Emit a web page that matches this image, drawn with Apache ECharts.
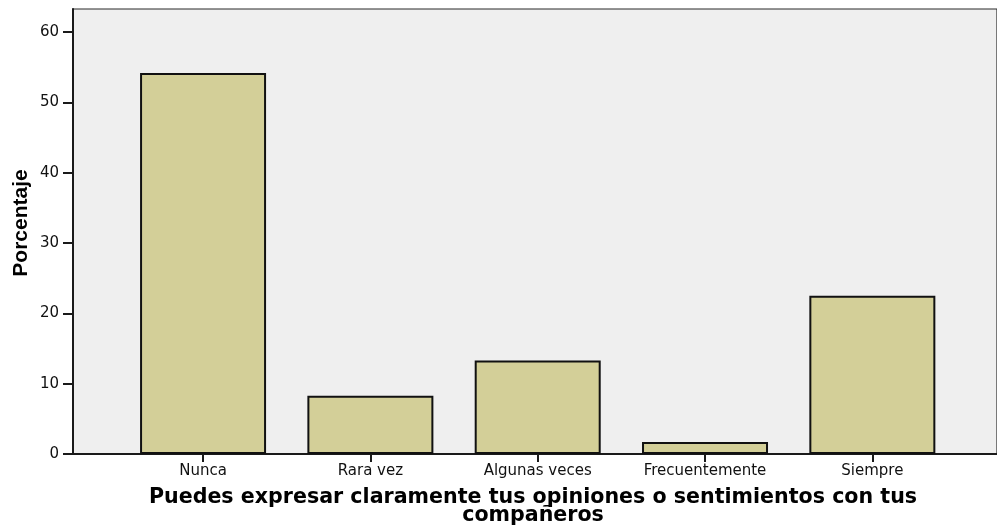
<!DOCTYPE html>
<html>
<head>
<meta charset="utf-8">
<script src="https://cdn.jsdelivr.net/npm/echarts@6/dist/echarts.min.js"></script>
<style>
html,body{margin:0;padding:0;background:#fff;}
#chart{width:997px;height:527px;}
</style>
</head>
<body>
<div id="chart"></div>
<script>
const categories = ['Nunca', 'Rara vez', 'Algunas veces', 'Frecuentemente', 'Siempre'];
const percentages = [54.2, 8.3, 13.3, 1.7, 22.5];
const yTicks = [0, 10, 20, 30, 40, 50, 60];
const yMax = 63.3;
const yAxisTitle = 'Porcentaje';
const xTitleLine1 = 'Puedes expresar claramente tus opiniones o sentimientos con tus';
const xTitleLine2 = 'compañeros';

const chart = echarts.init(document.getElementById('chart'), null, {renderer: 'canvas'});
const textColor = '#111111';
const lineColor = '#1a1a1a';

chart.setOption({
  animation: false,
  backgroundColor: '#ffffff',
  grid: [
    {left: 73, right: -2, top: 9, bottom: 73, show: true, backgroundColor: '#efefef', borderColor: '#2a2a2a', borderWidth: 1.2},
    {left: 119.4, right: 41, top: 9, bottom: 73}
  ],
  xAxis: [
    {gridIndex: 0, type: 'value', min: 0, max: 1,
     axisLine: {show: true, lineStyle: {color: lineColor, width: 2}},
     axisTick: {show: false}, axisLabel: {show: false}, splitLine: {show: false}},
    {gridIndex: 1, type: 'category', data: categories, boundaryGap: true,
     axisLine: {show: false},
     axisTick: {show: true, alignWithLabel: true, length: 8, lineStyle: {color: lineColor, width: 2}},
     axisLabel: {margin: 10, fontFamily: 'DejaVu Sans', fontSize: 15, color: textColor},
     splitLine: {show: false}}
  ],
  yAxis: [
    {gridIndex: 0, type: 'value', min: 0, max: yMax, interval: 10,
     axisLine: {show: true, lineStyle: {color: lineColor, width: 2}},
     axisTick: {show: true, length: 10, customValues: yTicks, lineStyle: {color: lineColor, width: 2}},
     axisLabel: {margin: 14, customValues: yTicks, fontFamily: 'DejaVu Sans', fontSize: 15, color: textColor},
     splitLine: {show: false}},
    {gridIndex: 1, type: 'value', min: 0, max: yMax, show: false, splitLine: {show: false}}
  ],
  series: [{
    type: 'bar',
    xAxisIndex: 1, yAxisIndex: 1,
    data: percentages,
    barWidth: 126,
    itemStyle: {color: '#d3cf98', borderColor: '#111111', borderWidth: 2}
  }],
  graphic: [
    {type: 'text', x: 21, y: 223, rotation: Math.PI / 2,
     style: {text: yAxisTitle, font: 'bold 21px "Liberation Sans", Arial, sans-serif', fill: '#000', textAlign: 'center', textVerticalAlign: 'middle'}},
    {type: 'text', x: 533, y: 498,
     style: {text: xTitleLine1, font: 'bold 20.6px "DejaVu Sans", sans-serif', fill: '#000', textAlign: 'center', textVerticalAlign: 'middle'}},
    {type: 'text', x: 533, y: 516,
     style: {text: xTitleLine2, font: 'bold 20.6px "DejaVu Sans", sans-serif', fill: '#000', textAlign: 'center', textVerticalAlign: 'middle'}}
  ]
});
</script>
</body>
</html>
